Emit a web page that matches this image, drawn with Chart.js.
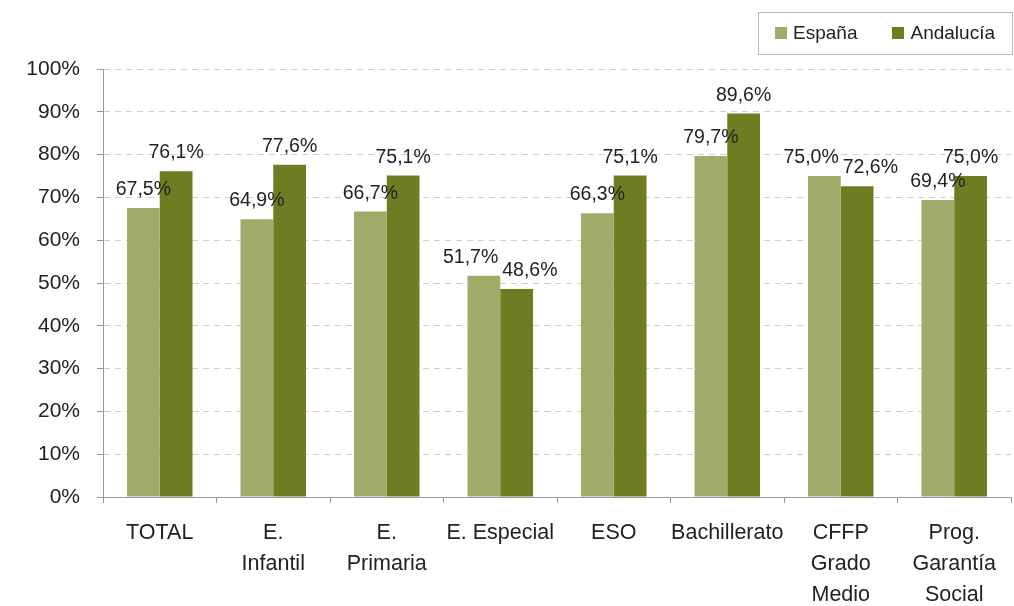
<!DOCTYPE html>
<html>
<head>
<meta charset="utf-8">
<script src="https://cdn.jsdelivr.net/npm/chart.js@4/dist/chart.umd.min.js"></script>
<style>
    body{margin:0;background:#fff;}
    #chart{display:block;}
</style>
</head>
<body>
<canvas id="chart" width="1014" height="606"></canvas>
<script>
// datos
const categorias = [
    ["TOTAL"],
    ["E.", "Infantil"],
    ["E.", "Primaria"],
    ["E. Especial"],
    ["ESO"],
    ["Bachillerato"],
    ["CFFP", "Grado", "Medio"],
    ["Prog.", "Garantía", "Social"]
];
const espana    = [67.5, 64.9, 66.7, 51.7, 66.3, 79.7, 75.0, 69.4];
const andalucia = [76.1, 77.6, 75.1, 48.6, 75.1, 89.6, 72.6, 75.0];
const nombres   = ["España", "Andalucía"];
const colores   = ["#a2aa6a", "#6e7c22"];
const yTicks    = [0, 10, 20, 30, 40, 50, 60, 70, 80, 90, 100];

const FONT = "'Liberation Sans', Arial, sans-serif";

function fmt(v){
    return v.toFixed(1).replace(".", ",") + "%";
}

// etiquetas encima de cada barra (se separan si se pisan)
const etiquetas = {
    id: "etiquetas",
    afterDatasetsDraw(chart){
        const ctx = chart.ctx;
        ctx.save();
        ctx.font = "19.5px " + FONT;
        ctx.fillStyle = "#222";
        ctx.textAlign = "center";
        ctx.textBaseline = "alphabetic";
        const m0 = chart.getDatasetMeta(0).data;
        const m1 = chart.getDatasetMeta(1).data;
        const d0 = chart.data.datasets[0].data;
        const d1 = chart.data.datasets[1].data;
        for(let j=0; j<m0.length; j++){
            const t0 = fmt(d0[j]), t1 = fmt(d1[j]);
            let x0 = m0[j].x, x1 = m1[j].x;
            const y0 = m0[j].y - 13, y1 = m1[j].y - 13;
            const w0 = ctx.measureText(t0).width, w1 = ctx.measureText(t1).width;
            const solape = (w0 + w1) / 2 + 4 - (x1 - x0);
            if(Math.abs(y0 - y1) < 22 && solape > 0){
                x0 -= solape / 2;
                x1 += solape / 2;
            }
            ctx.fillText(t0, x0, y0);
            ctx.fillText(t1, x1, y1);
        }
        ctx.restore();
    }
};

// leyenda con recuadro arriba a la derecha
const leyenda = {
    id: "leyenda",
    afterDraw(chart){
        const ctx = chart.ctx;
        ctx.save();
        ctx.font = "19px " + FONT;
        const box = 12, gap = 6, sep = 35, pad = 17;
        const anchos = chart.data.datasets.map(ds => ctx.measureText(ds.label).width);
        let total = pad * 2 + sep * (anchos.length - 1);
        anchos.forEach(w => total += box + gap + w);
        const right = 1012, top = 12, h = 42;
        const left = right - total;
        ctx.strokeStyle = "#bbb";
        ctx.lineWidth = 1;
        ctx.strokeRect(Math.round(left) + 0.5, top + 0.5, Math.round(total), h);
        let x = left + pad;
        const cy = top + h / 2;
        ctx.textBaseline = "middle";
        ctx.textAlign = "left";
        chart.data.datasets.forEach((ds, i) => {
            ctx.fillStyle = ds.backgroundColor;
            ctx.fillRect(Math.round(x), cy - 6, box, box);
            ctx.fillStyle = "#222";
            ctx.fillText(ds.label, x + box + gap, cy + 1);
            x += box + gap + anchos[i] + sep;
        });
        ctx.restore();
    }
};

new Chart(document.getElementById("chart"), {
    type: "bar",
    data: {
        labels: categorias,
        datasets: [
            {label: nombres[0], data: espana, backgroundColor: colores[0]},
            {label: nombres[1], data: andalucia, backgroundColor: colores[1]}
        ]
    },
    options: {
        responsive: false,
        animation: false,
        layout: {padding: {top: 69, right: 3, left: 0, bottom: 0}},
        datasets: {bar: {categoryPercentage: 0.577, barPercentage: 1}},
        plugins: {legend: {display: false}, tooltip: {enabled: false}},
        scales: {
            x: {
                afterFit: s => { s.height = 109; },
                grid: {offset: true, drawOnChartArea: false, tickLength: 6, tickColor: "#999"},
                border: {color: "#999"},
                ticks: {
                    color: "#222", maxRotation: 0, autoSkip: false, padding: 15,
                    font: {family: FONT, size: 21.5, lineHeight: 1.44}
                }
            },
            y: {
                min: 0, max: 100,
                afterFit: s => { s.width = 103; },
                afterBuildTicks: s => { s.ticks = yTicks.map(v => ({value: v})); },
                grid: {color: "#cfcfcf", tickLength: 6, tickColor: "#999"},
                border: {color: "#999", dash: [6, 5]},
                ticks: {
                    color: "#222", padding: 17,
                    font: {family: FONT, size: 21},
                    callback: v => v + "%"
                }
            }
        }
    },
    plugins: [etiquetas, leyenda]
});
</script>
</body>
</html>
